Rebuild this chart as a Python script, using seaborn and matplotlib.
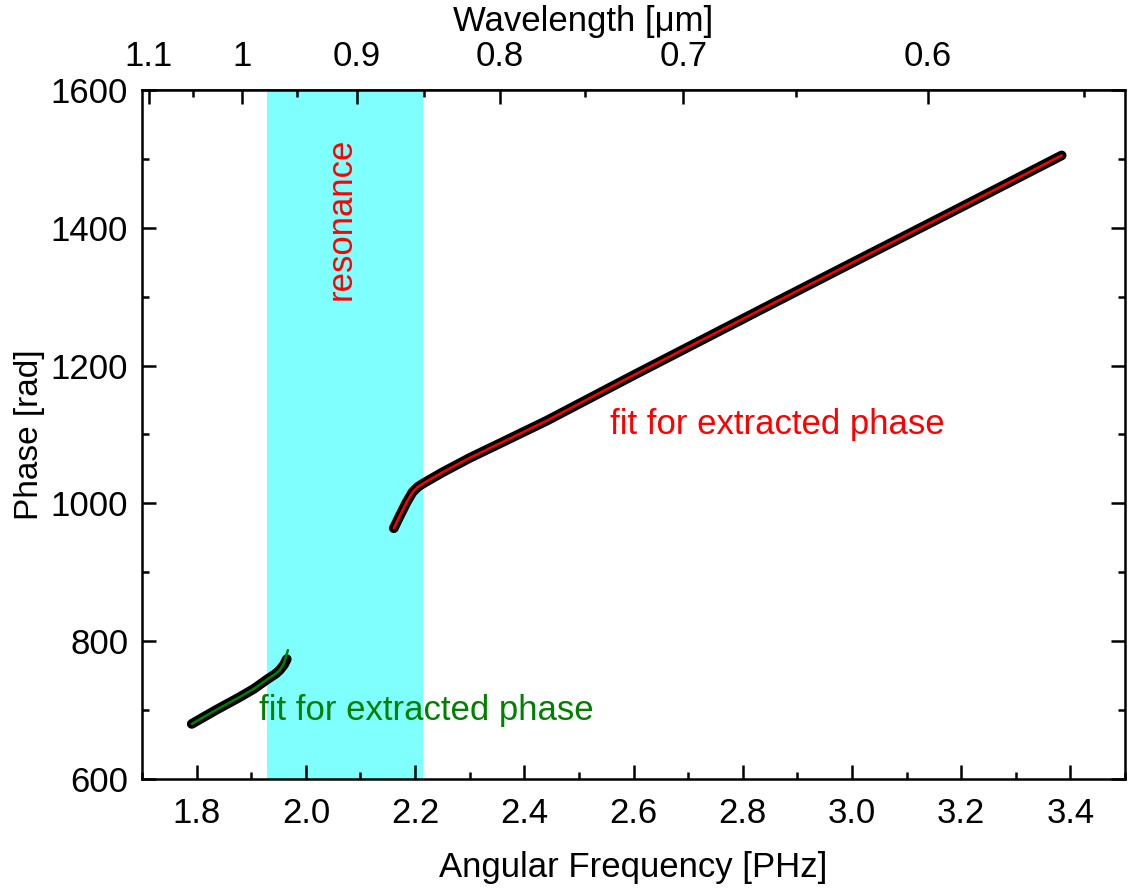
import numpy as np
import pandas as pd
import matplotlib
matplotlib.use("Agg")
import matplotlib.pyplot as plt
import seaborn as sns

sns.set_theme(style="ticks")
plt.rcParams["font.family"] = ["Liberation Sans", "DejaVu Sans"]
plt.rcParams["text.color"] = "black"
plt.rcParams["axes.labelcolor"] = "black"

low_freq = [1.791, 1.835, 1.879, 1.905, 1.928, 1.945, 1.952, 1.960, 1.965]
low_phase = [680, 700, 719, 731, 744, 753, 758, 766, 774]
# fit, below the resonance (runs a little past the data)
low_fit_freq = [1.791, 1.835, 1.879, 1.905, 1.928, 1.945, 1.952, 1.960, 1.967]
low_fit_phase = [680, 700, 719, 731, 744, 753, 758, 768, 787]

# measured phase, above the resonance
high_freq = [2.161, 2.172, 2.184, 2.195, 2.205, 2.217, 2.25, 2.30, 2.355, 2.441,
             2.6, 2.862, 3.0, 3.2, 3.384]
high_phase = [964, 982, 1001, 1016, 1024, 1030, 1045, 1066, 1087, 1120,
              1186, 1293, 1349, 1430, 1505]

# wavelength ticks on top axis [um]
wl_major = [1.1, 1.0, 0.9, 0.8, 0.7, 0.6]
wl_major_labels = ["1.1", "1", "0.9", "0.8", "0.7", "0.6"]
wl_minor = [1.05, 0.95, 0.85, 0.75, 0.65, 0.55]

resonance = (1.928, 2.215)
TWO_PI_C = 1.8837  # um * PHz
FS = 25

fig = plt.figure(figsize=(11.31, 8.89), dpi=100)
ax = fig.add_axes([0.1256, 0.1237, 0.8691, 0.7751])

ax.axvspan(*resonance, color="#80ffff", lw=0, zorder=0)

low = pd.DataFrame({"w": low_freq, "phi": low_phase})
low_fit = pd.DataFrame({"w": low_fit_freq, "phi": low_fit_phase})
high = pd.DataFrame({"w": high_freq, "phi": high_phase})

thick = dict(color="black", linewidth=7.0, solid_capstyle="round",
             solid_joinstyle="round", sort=False, estimator=None)
sns.lineplot(data=low, x="w", y="phi", ax=ax, **thick)
sns.lineplot(data=high, x="w", y="phi", ax=ax, **thick)
sns.lineplot(data=low_fit, x="w", y="phi", ax=ax, color="#008000",
             linewidth=1.8, sort=False, estimator=None)
sns.lineplot(data=high, x="w", y="phi", ax=ax, color="red",
             linewidth=1.8, sort=False, estimator=None)

ax.set_xlim(1.7, 3.5)
ax.set_ylim(600, 1600)
ax.set_xticks(np.arange(1.8, 3.41, 0.2))
ax.set_xticks(np.arange(1.7, 3.51, 0.1), minor=True)
ax.set_yticks(np.arange(600, 1601, 200))
ax.set_yticks(np.arange(600, 1601, 100), minor=True)
ax.set_xticklabels([f"{v:.1f}" for v in np.arange(1.8, 3.41, 0.2)])

ax.set_xlabel("Angular Frequency [PHz]", fontsize=FS, labelpad=15)
ax.set_ylabel("Phase [rad]", fontsize=24, labelpad=4)

for s in ax.spines.values():
    s.set_linewidth(1.8)
    s.set_color("black")
ax.tick_params(which="both", direction="in", width=1.8, colors="black",
               labelsize=FS, top=False, right=True)
ax.tick_params(which="major", length=10, pad=13)
ax.tick_params(which="minor", length=5)
ax.tick_params(axis="y", which="major", pad=10)

top = ax.secondary_xaxis("top", functions=(lambda w: TWO_PI_C / w,
                                           lambda l: TWO_PI_C / l))
top.set_xticks(wl_major)
top.set_xticklabels(wl_major_labels)
top.set_xticks(wl_minor, minor=True)
top.tick_params(which="both", direction="in", width=1.8, colors="black",
                labelsize=FS, pad=12)
top.tick_params(which="major", length=10)
top.tick_params(which="minor", length=5)
top.set_xlabel("Wavelength [\u03bcm]", fontsize=FS, labelpad=7, x=0.449)

ax.text(2.065, 1413, "resonance", color="red", fontsize=FS, rotation=90,
        ha="center", va="center")
ax.text(2.556, 1115, "fit for extracted phase", color="red", fontsize=FS,
        ha="left", va="center")
ax.text(1.915, 699, "fit for extracted phase", color="#008000", fontsize=FS,
        ha="left", va="center")

fig.savefig("out.png", dpi=100)
